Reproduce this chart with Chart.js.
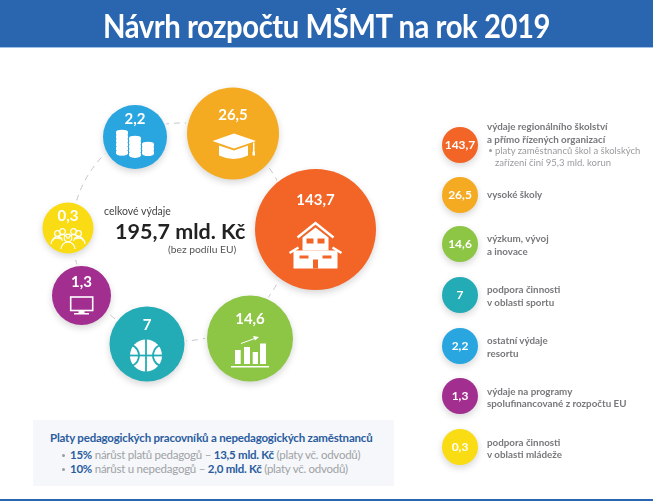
<!DOCTYPE html>
<html lang="cs">
<head>
<meta charset="utf-8">
<title>Návrh rozpočtu MŠMT na rok 2019</title>
<script src="https://cdn.jsdelivr.net/npm/chart.js@4"></script>
<style>
  html, body { margin: 0; padding: 0; background: #fff; }
  body { width: 653px; height: 501px; overflow: hidden; position: relative; font-family: Lato, sans-serif; }
  #chart { position: absolute; left: 0; top: 0; width: 653px; height: 501px; }
  .header { position: absolute; left: 0; top: 0; width: 653px; height: 47px; background: #2a65b0; border-bottom: 1px solid #9fc1e6; }
  .header h1 { margin: 0; text-align: center; color: #fff; font-size: 33px; line-height: 50px; font-weight: 700; letter-spacing: -0.5px; transform: scaleX(0.887); }
  .footer-line { position: absolute; left: 0; top: 499px; width: 653px; height: 2px; background: #2a65b0; }
  .box { position: absolute; left: 33px; top: 420px; width: 361px; height: 66px; background: #f5f7fa; }
  .t { position: absolute; white-space: nowrap; line-height: 14px; }
  .leg { font-size: 9.8px; font-weight: 700; color: #77787b; left: 487px; }
  .legsub { font-size: 9.5px; color: #9a9b9e; left: 495px; }
  .dot { position: absolute; border-radius: 50%; background: #9a9b9e; }
  .pay { font-size: 11.5px; letter-spacing: -0.25px; color: #a0a2a5; left: 70px; }
  .pay b { color: #2b5c9e; }
</style>
</head>
<body>
<canvas id="chart" width="653" height="501"></canvas>
<div class="header"><h1>Návrh rozpočtu MŠMT na rok 2019</h1></div>
<div class="box"></div>
<div class="footer-line"></div>
<div id="texts"></div>
<script>
// values in mld. Kč
const categories = ['regionalni', 'vysoke', 'vyzkum', 'sport', 'ostatni', 'eu', 'mladez'];
const values = [143.7, 26.5, 14.6, 7, 2.2, 1.3, 0.3];
const colors = ['#f26527', '#f5ab21', '#8dc544', '#24acb6', '#29a5df', '#a22e90', '#f9dc14'];

// ring positions
const ringX = [315.5, 233, 250, 147, 135, 81.5, 68];
const ringY = [229.5, 133.5, 338.5, 344, 137, 295.5, 228];
const ringR = [60.5, 46, 43, 37.5, 32, 29.5, 25.5];
const ringLabelDy = [-29, -18.5, -19.5, -19, -18, -13.5, -12];

// legend column
const legendX = [460, 460, 460, 460, 460, 460, 460];
const legendY = [145, 195, 244, 295, 346, 396, 447];
const legendR = 18;

const legendLines = [
  [['výdaje regionálního školství', 126], ['a přímo řízených organizací', 139]],
  [['vysoké školy', 194]],
  [['výzkum, vývoj', 238], ['a inovace', 251]],
  [['podpora činnosti', 289], ['v oblasti sportu', 302]],
  [['ostatní výdaje', 340], ['resortu', 353]],
  [['výdaje na programy', 391], ['spolufinancované z rozpočtu EU', 403]],
  [['podpora činnosti', 442], ['v oblasti mládeže', 454]]
];
const legendSub = [['platy zaměstnanců škol a školských', 151], ['zařízení činí 95,3 mld. korun', 163]];

const fmt = v => String(v).replace('.', ',');

// overlay text
const texts = document.getElementById('texts');
function addText(html, cls, left, cy, style) {
  const el = document.createElement('div');
  el.className = 't ' + cls;
  el.innerHTML = html;
  el.style.top = (cy - 7) + 'px';
  if (left !== null) el.style.left = left + 'px';
  if (style) el.style.cssText += style;
  texts.appendChild(el);
}
function addDot(x, y, d) {
  const el = document.createElement('div');
  el.className = 'dot';
  el.style.cssText = `left:${x}px;top:${y}px;width:${d}px;height:${d}px;`;
  texts.appendChild(el);
}

legendLines.forEach(lines => lines.forEach(([txt, y]) => addText(txt, 'leg', null, y)));
legendSub.forEach(([txt, y]) => addText(txt, 'legsub', null, y));
addDot(489, 149, 3);

addText('celkové výdaje', '', 104, 211, 'font-size:10.5px;color:#444;');
addText('195,7 mld. Kč', '', 115, 231, 'font-size:21.5px;font-weight:700;color:#222;');
addText('(bez podílu EU)', '', 168, 249, 'font-size:10.3px;color:#555;');

addText('Platy pedagogických pracovníků a nepedagogických zaměstnanců', '', 50, 437.5, 'font-size:11.5px;letter-spacing:-0.2px;font-weight:700;color:#2b5c9e;');
addText('<b>15%</b> nárůst platů pedagogů – <b>13,5 mld. Kč</b> (platy vč. odvodů)', 'pay', 70, 455);
addText('<b>10%</b> nárůst u nepedagogů – <b>2,0 mld. Kč</b> (platy vč. odvodů)', 'pay', 70, 469);
addDot(62, 453.5, 3);
addDot(62, 467.5, 3);

// icons, drawn around the bubble centre
function rect(ctx, x, y, w, h) { ctx.fillRect(x, y, w, h); }

const icons = {
  vysoke(ctx) {
    ctx.beginPath();
    ctx.moveTo(-20.5, 7.5); ctx.lineTo(1, 0); ctx.lineTo(23, 7.5); ctx.lineTo(1, 15); ctx.closePath(); ctx.fill();
    ctx.beginPath();
    ctx.moveTo(-14, 12); ctx.lineTo(1, 17); ctx.lineTo(15, 12); ctx.lineTo(15, 22);
    ctx.quadraticCurveTo(1, 29, -14, 22); ctx.closePath(); ctx.fill();
    rect(ctx, 20, 9, 1.5, 10);
    rect(ctx, 19.5, 18, 2.5, 4);
  },
  regionalni(ctx, col) {
    ctx.lineWidth = 2.5; ctx.lineJoin = 'miter';
    ctx.beginPath(); ctx.moveTo(-18, 8); ctx.lineTo(0, -6.5); ctx.lineTo(18, 8); ctx.stroke();
    ctx.beginPath(); ctx.moveTo(0, -2); ctx.lineTo(13, 8); ctx.lineTo(13, 21); ctx.lineTo(-13, 21); ctx.lineTo(-13, 8); ctx.closePath(); ctx.fill();
    ctx.beginPath(); ctx.moveTo(-26, 23.5); ctx.lineTo(-17, 18); ctx.stroke();
    ctx.beginPath(); ctx.moveTo(26, 23.5); ctx.lineTo(17, 18); ctx.stroke();
    rect(ctx, -22, 21, 44, 18);
    ctx.fillStyle = col;
    rect(ctx, -9, 9, 7, 5); rect(ctx, 2, 9, 7, 5);
    rect(ctx, -16, 26, 9, 3); rect(ctx, 7, 26, 9, 3);
    rect(ctx, -2.5, 30, 5, 9);
  },
  vyzkum(ctx) {
    rect(ctx, -15, 11.5, 5.7, 14);
    rect(ctx, -6, 8.5, 6, 17);
    rect(ctx, 2.7, 13.5, 5.3, 12);
    rect(ctx, 10, 5, 6, 20.5);
    rect(ctx, -19, 27.5, 38, 1.5);
    ctx.lineWidth = 1;
    ctx.beginPath(); ctx.moveTo(-9, 5); ctx.lineTo(6, -0.5); ctx.stroke();
    ctx.beginPath(); ctx.moveTo(9, -1.5); ctx.lineTo(3, -2.5); ctx.lineTo(5, 2); ctx.closePath(); ctx.fill();
  },
  sport(ctx, col) {
    ctx.beginPath(); ctx.arc(-1, 11.5, 16, 0, Math.PI * 2); ctx.fill();
    ctx.strokeStyle = col; ctx.lineWidth = 1.8;
    ctx.beginPath(); ctx.moveTo(-1, -5); ctx.lineTo(-1, 28); ctx.stroke();
    ctx.beginPath(); ctx.moveTo(-17, 11.5); ctx.lineTo(15, 11.5); ctx.stroke();
    ctx.beginPath(); ctx.arc(-19, 11.5, 11, -Math.PI / 2.4, Math.PI / 2.4); ctx.stroke();
    ctx.beginPath(); ctx.arc(17, 11.5, 11, Math.PI - Math.PI / 2.4, Math.PI + Math.PI / 2.4); ctx.stroke();
  },
  eu(ctx) {
    ctx.lineWidth = 1.6;
    ctx.strokeRect(-10.8, 1.5, 22, 13.5);
    rect(ctx, -3, 15, 6, 2.5);
    rect(ctx, -7.5, 17.5, 15, 1.5);
  },
  mladez(ctx) {
    ctx.lineWidth = 1.2;
    const person = (x, y, s) => {
      ctx.beginPath(); ctx.arc(x, y, 3.4 * s, 0, Math.PI * 2); ctx.stroke();
      ctx.beginPath(); ctx.arc(x, y + 9.5 * s, 5.8 * s, Math.PI * 1.05, Math.PI * 1.95); ctx.stroke();
    };
    person(-10.5, 5.5, 0.85); person(10.5, 5.5, 0.85);
    person(-5.5, 3.5, 0.85); person(5.5, 3.5, 0.85);
    ctx.beginPath(); ctx.arc(0, 10, 3.8, 0, Math.PI * 2); ctx.stroke();
    ctx.beginPath(); ctx.arc(0, 21, 7, Math.PI, 0); ctx.stroke();
    ctx.beginPath(); ctx.arc(-11, 16, 6, Math.PI, Math.PI * 1.7); ctx.stroke();
    ctx.beginPath(); ctx.arc(11, 16, 6, Math.PI * 1.3, 0); ctx.stroke();
  },
  ostatni(ctx, col) {
    const stack = (x, top, n) => {
      for (let i = 0; i < n; i++) {
        const y = top + i * 3.9;
        ctx.fillStyle = '#fff';
        ctx.beginPath(); ctx.ellipse(x, y, 6, 2.3, 0, 0, Math.PI * 2); ctx.fill();
        ctx.fillRect(x - 6, y, 12, 2);
        ctx.beginPath(); ctx.ellipse(x, y + 2, 6, 2.3, 0, 0, Math.PI * 2); ctx.fill();
        ctx.strokeStyle = col; ctx.lineWidth = 0.7;
        ctx.beginPath(); ctx.ellipse(x, y + 2.6, 6, 2.3, 0, 0, Math.PI); ctx.stroke();
      }
    };
    stack(-13, -5, 6);
    stack(0, 1, 5);
    stack(13, 7, 3);
  }
};

// ring behind the bubbles, with a white gap round each of them
const ringPlugin = {
  id: 'ring',
  beforeDatasetsDraw(chart) {
    const { ctx, scales: { x, y } } = chart;
    ctx.save();
    ctx.strokeStyle = '#c4c6c8';
    ctx.lineWidth = 1;
    ctx.setLineDash([6, 5]);
    ctx.beginPath();
    ctx.arc(x.getPixelForValue(181), y.getPixelForValue(232), 109, 0, Math.PI * 2);
    ctx.stroke();
    ctx.setLineDash([]);
    ctx.fillStyle = '#fff';
    chart.getDatasetMeta(0).data.forEach((el, i) => {
      ctx.beginPath();
      ctx.arc(el.x, el.y, ringR[i] + 2, 0, Math.PI * 2);
      ctx.fill();
    });
    ctx.restore();
  },
  beforeDatasetDraw(chart) {
    const { ctx } = chart;
    ctx.save();
    ctx.shadowColor = 'rgba(0,0,0,0.16)';
    ctx.shadowBlur = 7;
    ctx.shadowOffsetY = 3;
  },
  afterDatasetDraw(chart) {
    chart.ctx.restore();
  },
  afterDatasetsDraw(chart) {
    const { ctx } = chart;
    ctx.save();
    ctx.textAlign = 'center';
    ctx.textBaseline = 'middle';
    chart.getDatasetMeta(0).data.forEach((el, i) => {
      ctx.fillStyle = '#fff';
      ctx.strokeStyle = '#fff';
      ctx.font = '700 15px Lato, sans-serif';
      ctx.fillText(fmt(values[i]), el.x, el.y + ringLabelDy[i]);
      ctx.save();
      ctx.translate(el.x, el.y);
      icons[categories[i]](ctx, colors[i]);
      ctx.restore();
    });
    ctx.fillStyle = '#fff';
    ctx.font = '700 12px Lato, sans-serif';
    chart.getDatasetMeta(1).data.forEach((el, i) => {
      ctx.fillText(fmt(values[i]), el.x, el.y);
    });
    ctx.restore();
  }
};

new Chart(document.getElementById('chart').getContext('2d'), {
  type: 'bubble',
  data: {
    datasets: [
      {
        label: 'Výdaje',
        data: values.map((v, i) => ({ x: ringX[i], y: ringY[i], r: ringR[i] })),
        backgroundColor: colors,
        borderWidth: 0
      },
      {
        label: 'Legenda',
        data: values.map((v, i) => ({ x: legendX[i], y: legendY[i], r: legendR })),
        backgroundColor: colors,
        borderWidth: 0
      }
    ]
  },
  options: {
    responsive: false,
    animation: false,
    devicePixelRatio: 1,
    layout: { padding: 0, autoPadding: false },
    plugins: { legend: { display: false }, tooltip: { enabled: false } },
    scales: {
      x: { type: 'linear', min: 0, max: 653, display: false },
      y: { type: 'linear', min: 0, max: 501, reverse: true, display: false }
    }
  },
  plugins: [ringPlugin]
});
</script>
</body>
</html>
